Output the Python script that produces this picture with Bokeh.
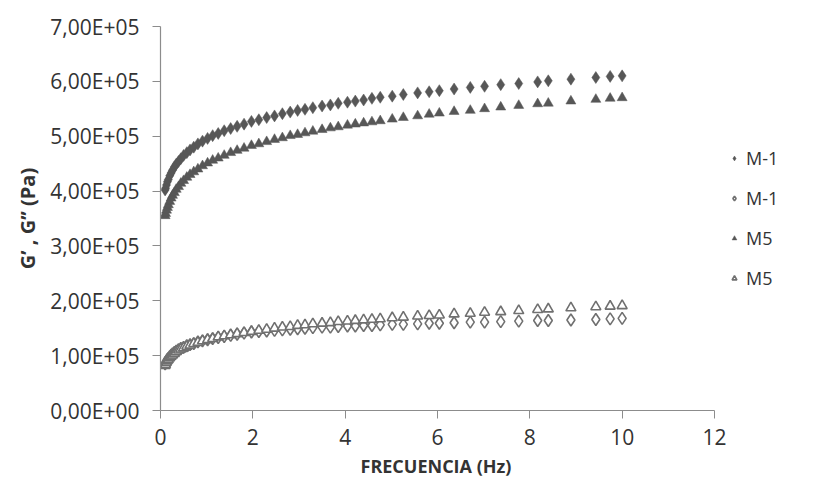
from bokeh.plotting import figure
from bokeh.models import Range1d, Legend, LegendItem, FixedTicker, Title
from bokeh.embed import file_html
from bokeh.resources import INLINE

# Frequency (Hz)
freq = [0.10, 0.11, 0.13, 0.15, 0.17, 0.20, 0.23, 0.26, 0.30, 0.34, 0.39, 0.44, 0.50, 0.57,
        0.64, 0.72, 0.81, 0.91, 1.02, 1.13, 1.25, 1.38, 1.52, 1.66, 1.81, 1.97, 2.13, 2.30,
        2.47, 2.64, 2.81, 2.97, 3.13, 3.30, 3.50, 3.68, 3.85, 4.05, 4.22, 4.40, 4.58, 4.76,
        5.02, 5.26, 5.57, 5.82, 6.04, 6.36, 6.71, 7.02, 7.37, 7.76, 8.17, 8.40, 8.89, 9.43,
        9.74, 10.0]

# G' M-1 (x1e5 Pa)
g1_m1 = [4.02, 4.05, 4.11, 4.17, 4.21, 4.28, 4.33, 4.38, 4.44, 4.49, 4.54, 4.59, 4.65, 4.70,
         4.75, 4.80, 4.86, 4.91, 4.96, 5.01, 5.05, 5.10, 5.14, 5.18, 5.22, 5.27, 5.30, 5.34,
         5.37, 5.41, 5.44, 5.47, 5.49, 5.52, 5.55, 5.57, 5.60, 5.62, 5.64, 5.66, 5.69, 5.71,
         5.73, 5.76, 5.79, 5.81, 5.83, 5.86, 5.89, 5.91, 5.94, 5.96, 5.99, 6.01, 6.04, 6.07,
         6.09, 6.10]
# G'' M-1
g2_m1 = [0.85, 0.87, 0.90, 0.93, 0.95, 0.98, 1.01, 1.03, 1.06, 1.08, 1.11, 1.13, 1.15, 1.18,
         1.20, 1.22, 1.25, 1.27, 1.29, 1.31, 1.33, 1.35, 1.37, 1.39, 1.41, 1.43, 1.44, 1.45,
         1.46, 1.47, 1.48, 1.49, 1.50, 1.51, 1.52, 1.52, 1.53, 1.54, 1.54, 1.55, 1.55, 1.56,
         1.57, 1.57, 1.58, 1.59, 1.59, 1.60, 1.61, 1.61, 1.62, 1.63, 1.64, 1.64, 1.65, 1.66,
         1.67, 1.68]
# G' M5
g1_m5 = [3.55, 3.59, 3.65, 3.70, 3.75, 3.81, 3.87, 3.92, 3.97, 4.03, 4.08, 4.14, 4.19, 4.25,
         4.30, 4.35, 4.40, 4.46, 4.51, 4.56, 4.60, 4.65, 4.70, 4.74, 4.78, 4.83, 4.86, 4.90,
         4.94, 4.97, 5.01, 5.03, 5.06, 5.09, 5.12, 5.15, 5.17, 5.20, 5.22, 5.24, 5.26, 5.28,
         5.31, 5.34, 5.37, 5.40, 5.42, 5.45, 5.47, 5.50, 5.53, 5.56, 5.59, 5.60, 5.64, 5.67,
         5.69, 5.70]
# G'' M5
g2_m5 = [0.82, 0.84, 0.88, 0.91, 0.93, 0.96, 0.99, 1.01, 1.04, 1.07, 1.10, 1.12, 1.14, 1.17,
         1.19, 1.22, 1.24, 1.27, 1.29, 1.31, 1.34, 1.36, 1.38, 1.40, 1.42, 1.44, 1.46, 1.48,
         1.50, 1.52, 1.53, 1.55, 1.56, 1.58, 1.59, 1.60, 1.62, 1.63, 1.64, 1.65, 1.66, 1.67,
         1.69, 1.70, 1.72, 1.73, 1.74, 1.76, 1.77, 1.79, 1.80, 1.82, 1.84, 1.85, 1.87, 1.89,
         1.90, 1.91]

scale = 1e5
series_labels = ["M-1", "M-1", "M5", "M5"]

x_ticks = [0, 2, 4, 6, 8, 10, 12]
y_ticks = [0, 100000, 200000, 300000, 400000, 500000, 600000, 700000]
y_tick_labels = ["0,00E+00", "1,00E+05", "2,00E+05", "3,00E+05",
                 "4,00E+05", "5,00E+05", "6,00E+05", "7,00E+05"]
x_title = "FRECUENCIA (Hz)"
y_title = "G’ , G’’ (Pa)"

FONT = "Open Sans"
FILL = "#575757"
OPEN = "#707070"
TEXT = "#333333"

x_max = 12
x_view_max = 14.08   # frame extends to the right to hold the legend

p = figure(frame_width=650, frame_height=384, output_backend="svg", toolbar_location=None,
           x_range=Range1d(0, x_view_max), y_range=Range1d(0, 700000),
           min_border_left=160, min_border_top=26, min_border_bottom=10, min_border_right=5)
p.outline_line_color = None
p.xgrid.grid_line_color = None
p.ygrid.grid_line_color = None
p.background_fill_color = "white"
p.border_fill_color = "white"

ys1 = [v * scale for v in g1_m1]
ys2 = [v * scale for v in g2_m1]
ys3 = [v * scale for v in g1_m5]
ys4 = [v * scale for v in g2_m5]

r1 = p.scatter(freq, ys1, marker="diamond", size=12, fill_color=FILL, line_color=FILL, line_width=0.5)
r2 = p.scatter(freq, ys2, marker="diamond", size=12, fill_color="white", line_color=OPEN, line_width=1.6)
r3 = p.scatter(freq, ys3, marker="triangle", size=10, fill_color=FILL, line_color=FILL, line_width=0.5)
r4 = p.scatter(freq, ys4, marker="triangle", size=10, fill_color="white", line_color=OPEN, line_width=1.6)

for ax in (p.xaxis[0], p.yaxis[0]):
    ax.axis_line_color = "#8c8c8c"
    ax.axis_line_width = 1.2
    ax.major_tick_line_color = "#8c8c8c"
    ax.major_tick_out = 8
    ax.major_tick_in = 0
    ax.minor_tick_line_color = None
    ax.major_label_text_font = FONT
    ax.major_label_text_font_size = "21px"
    ax.major_label_text_color = TEXT
    ax.axis_label_text_font = FONT
    ax.axis_label_text_font_style = "bold"
    ax.axis_label_text_font_size = "20px"
    ax.axis_label_text_color = TEXT

p.xaxis[0].ticker = FixedTicker(ticks=x_ticks)
p.xaxis[0].bounds = (0, x_max)
p.xaxis[0].major_label_standoff = 10

p.yaxis[0].ticker = FixedTicker(ticks=y_ticks)
p.yaxis[0].major_label_overrides = {t: l for t, l in zip(y_ticks, y_tick_labels)}
p.yaxis[0].major_label_standoff = 13
p.yaxis[0].axis_label = y_title
p.yaxis[0].axis_label_standoff = 6

# x-axis title centred under the 0-12 axis (not under the wider frame)
xt = Title(text=x_title, align="left", offset=200, standoff=8,
           text_font=FONT, text_font_style="bold", text_font_size="18px",
           text_color=TEXT)
p.add_layout(xt, "below")

legend = Legend(items=[LegendItem(label=series_labels[0], renderers=[r1]),
                       LegendItem(label=series_labels[1], renderers=[r2]),
                       LegendItem(label=series_labels[2], renderers=[r3]),
                       LegendItem(label=series_labels[3], renderers=[r4])],
                location=(568, 120), orientation="vertical")
legend.border_line_color = None
legend.background_fill_alpha = 0
legend.margin = 0
legend.padding = 0
legend.glyph_width = 12
legend.glyph_height = 20
legend.label_height = 20
legend.spacing = 16
legend.label_standoff = 6
legend.label_text_font = FONT
legend.label_text_font_size = "18px"
legend.label_text_color = TEXT
p.add_layout(legend)

open("out.html", "w").write(file_html(p, INLINE))
